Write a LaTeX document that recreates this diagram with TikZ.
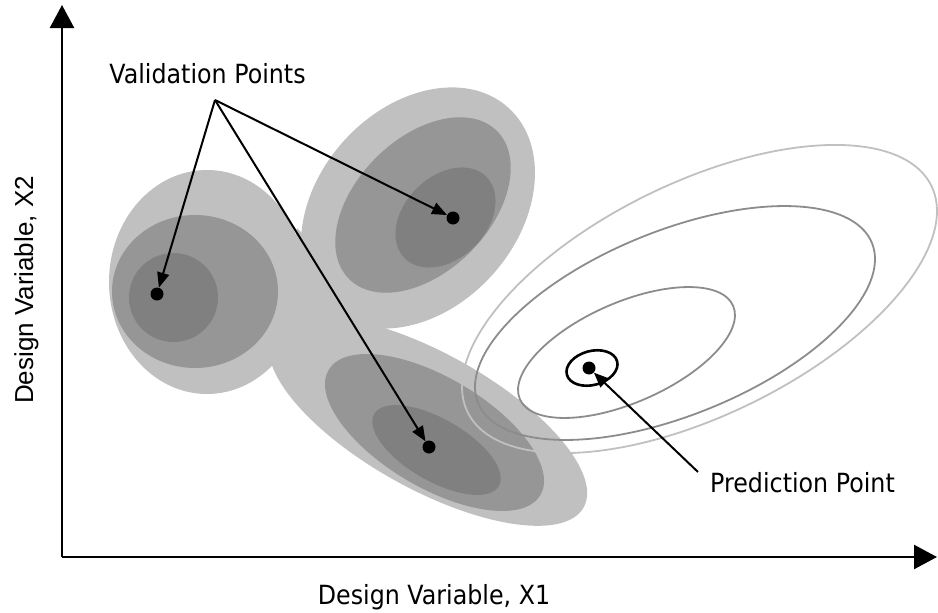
\documentclass[tikz,border=0pt]{standalone}
\usepackage{fontspec}
\setmainfont{DejaVu Sans}[FakeStretch=0.9]
\newfontfamily\arialfont{Liberation Sans}
\usetikzlibrary{arrows.meta}

\definecolor{clight}{HTML}{C0C0C0}
\definecolor{cmid}{HTML}{969696}
\definecolor{cdark}{HTML}{808080}
\definecolor{cring}{HTML}{8C8C8C}

\begin{document}
\begin{tikzpicture}[
    x=1pt, y=-1pt,
    lbl/.style   = {font=\fontsize{26.4}{30}\selectfont, inner sep=0pt},
    dot/.style   = {circle, fill=black, inner sep=0pt, minimum size=13pt},
    arr/.style   = {-{Triangle[length=15pt, width=12pt]}, line width=2pt},
    axis/.style  = {-{Triangle[length=23pt, width=24pt]}, line width=2.5pt},
    ring/.style  = {line width=1.8pt},
]
\useasboundingbox (0,0) rectangle (938,613);

%% ---- Outer (light) regions of the validation clusters ----
\fill[clight] (207,282) ellipse [x radius=98pt, y radius=112pt];
\fill[clight, rotate around={48:(418,208)}] (418,208) ellipse [x radius=135pt, y radius=100pt];
\fill[clight, rotate around={-29:(428,421)}] (428,421) ellipse [x radius=178pt, y radius=68pt];
% join between the three light regions
\fill[clight] (297,228) -- (393,325) -- (273,368) -- cycle;

%% ---- Middle regions ----
\fill[cmid] (195,291.5) ellipse [x radius=83pt, y radius=76.5pt];
\fill[cmid, rotate around={45:(423,205)}] (423,205) ellipse [x radius=104.6pt, y radius=66.7pt];
\fill[cmid, rotate around={-30.6:(434.5,432.5)}] (434.5,432.5) ellipse [x radius=123pt, y radius=55pt];

%% ---- Inner (dark) regions ----
\fill[cdark] (173.5,297.5) circle [radius=44.5pt];
\fill[cdark, rotate around={45:(445.5,217.5)}] (445.5,217.5) ellipse [x radius=57.7pt, y radius=41pt];
\fill[cdark, rotate around={-30:(436.5,450)}] (436.5,450) ellipse [x radius=72pt, y radius=31pt];

%% ---- Contours round the prediction point ----
\draw[ring, clight, rotate around={26:(699.5,299)}] (699.5,299) ellipse [x radius=258pt, y radius=116.4pt];
\draw[ring, cring, rotate around={22.1:(675,323)}] (675,323) ellipse [x radius=212.6pt, y radius=92.1pt];
\draw[ring, cring, rotate around={23.7:(626.5,352.5)}] (626.5,352.5) ellipse [x radius=116.4pt, y radius=50pt];
\draw[line width=2.6pt, rotate around={15:(592,368)}] (592,368) ellipse [x radius=26pt, y radius=17pt];

%% ---- Points ----
\node[dot] (vp1) at (157,294) {};
\node[dot] (vp2) at (453,218) {};
\node[dot] (vp3) at (429,447) {};
\node[dot] (pp)  at (589,368) {};

%% ---- Labels ----
\node[lbl, anchor=base] (vlabel) at (207.5,83) {Validation Points};
\node[lbl, anchor=base] (plabel) at (802.5,492) {Prediction Point};
\node[lbl, anchor=base] (xlabel) at (434,604) {Design Variable, X1};
\node[lbl, font=\arialfont\fontsize{26}{30}\selectfont, rotate=90, anchor=base]
    (ylabel) at (33,290) {Design Variable, X2};

\coordinate (vapex)  at (215,100);
\coordinate (pstart) at (698,472);

%% ---- Arrows ----
\draw[arr] (vapex)  -- (vp1);
\draw[arr] (vapex)  -- (vp2);
\draw[arr] (vapex)  -- (vp3);
\draw[arr] (pstart) -- (pp);

%% ---- Axes ----
\coordinate (origin) at (62,557);
\coordinate (ytip)   at (62,5);
\coordinate (xtip)   at (937,557);
\draw[axis] (origin) -- (ytip);
\draw[axis] (origin) -- (xtip);

\end{tikzpicture}
\end{document}
